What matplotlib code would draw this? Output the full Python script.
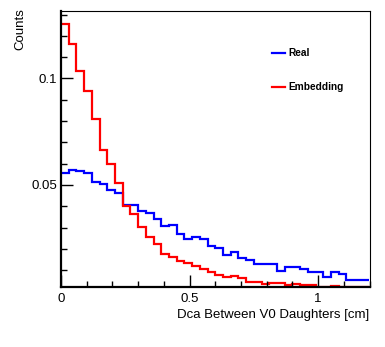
import numpy as np
import matplotlib.pyplot as plt

plt.rcParams['font.family'] = ['Liberation Sans', 'DejaVu Sans']

# 40 bins of 0.03 cm between 0 and 1.2
edges = np.linspace(0, 1.2, 41)

real = [0.0558, 0.0570, 0.0567, 0.0555, 0.0516, 0.0503, 0.0477, 0.0461, 0.0406, 0.0406,
        0.0379, 0.0367, 0.0340, 0.0308, 0.0312, 0.0270, 0.0246, 0.0257, 0.0245, 0.0215,
        0.0206, 0.0171, 0.0187, 0.0159, 0.0148, 0.0131, 0.0131, 0.0131, 0.0098, 0.0114,
        0.0114, 0.0104, 0.0093, 0.0093, 0.0069, 0.0093, 0.0081, 0.0055, 0.0055, 0.0055]

embedding = [0.1254, 0.1161, 0.1035, 0.0940, 0.0811, 0.0664, 0.0597, 0.0508, 0.0403, 0.0364,
             0.0301, 0.0257, 0.0222, 0.0176, 0.0163, 0.0145, 0.0135, 0.0120, 0.0104, 0.0092,
             0.0079, 0.0069, 0.0074, 0.0065, 0.0046, 0.0046, 0.0037, 0.0041, 0.0041, 0.0032,
             0.0037, 0.0032, 0.0032, 0.0023, 0.0023, 0.0027, 0.0023, 0.0023, 0.0023, 0.0019]

fig = plt.figure(figsize=(3.85, 3.47), dpi=100)
ax = fig.add_axes([61/385, 1-287/347, 308.5/385, 276.5/347])

ax.stairs(real, edges, baseline=None, color='#0000ff', lw=1.6, label='Real')
ax.stairs(embedding, edges, baseline=None, color='#ff0000', lw=1.6, label='Embedding')

ax.set_xlim(0, 1.2)
ax.set_ylim(0.0021, 0.1319)

ax.set_xticks([0, 0.5, 1])
ax.set_xticklabels(['0', '0.5', '1'])
ax.set_xticks(np.arange(0, 1.21, 0.1), minor=True)
ax.set_yticks([0.05, 0.1])
ax.set_yticklabels(['0.05', '0.1'])
ax.set_yticks(np.arange(0.01, 0.135, 0.01), minor=True)

ax.tick_params(which='both', direction='in', top=False, right=False, labelsize=9.5, width=1)
ax.tick_params(which='major', length=8.5)
ax.tick_params(which='minor', length=4.5)
ax.tick_params(axis='x', pad=4)
ax.tick_params(axis='y', pad=3)

for s in ['left', 'bottom']:
    ax.spines[s].set_linewidth(1.6)
for s in ['top', 'right']:
    ax.spines[s].set_linewidth(0.8)

fig.text(20/385, 1-8/347, 'Counts', rotation=90, ha='center', va='top', fontsize=9.5)
fig.text(369/385, 1-318/347, 'Dca Between V0 Daughters [cm]', ha='right', va='baseline', fontsize=9.5)

ax.legend(loc='upper left', bbox_to_anchor=(0.684, 0.864), frameon=False,
          prop={'weight': 'bold', 'size': 7.3}, handlelength=1.3, handletextpad=0.3,
          labelspacing=2.4, borderpad=0, borderaxespad=0)

fig.savefig('out.png', dpi=100)
